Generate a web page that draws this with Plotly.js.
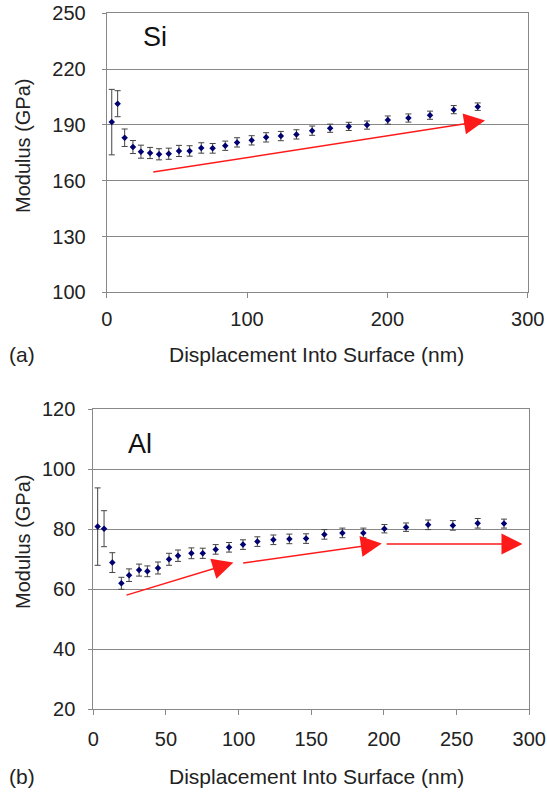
<!DOCTYPE html>
<html><head><meta charset="utf-8">
<script src="https://cdn.plot.ly/plotly-3.0.1.min.js"></script>
<style>html,body{margin:0;padding:0;background:#fff}#c{width:547px;height:792px}</style>
</head><body><div id="c"></div>
<script>
// Si (a)
const siDepth = [3.6,7.8,12.8,18.7,24.4,30.9,37.3,44.2,51.5,59.1,67.4,75.5,84.5,92.9,103.3,113.6,124.1,135.2,146.4,159.2,172.5,185.5,200.3,215.0,230.4,247.3,264.4];
const siModulus = [191.5,201.4,183.1,178.1,175.6,174.9,174.2,174.5,176.0,176.0,177.6,177.4,178.8,180.6,181.7,183.3,184.0,184.9,186.9,188.2,189.2,189.9,192.6,193.7,195.2,198.2,199.8];
const siErr = [17.6,7.0,4.7,3.5,3.5,3.0,3.0,3.0,3.0,2.8,2.8,2.6,2.5,2.5,2.5,2.5,2.5,2.5,2.5,2.2,2.2,2.2,2.2,2.2,2.2,2.2,2.0];
// Al (b)
const alDepth = [3.0,7.4,13.1,19.3,24.6,31.5,37.2,44.5,52.1,58.3,67.5,75.3,84.2,93.4,103.0,112.9,123.9,134.9,146.4,159.0,171.4,185.8,200.3,215.2,230.4,247.4,264.5,282.6];
const alModulus = [80.9,80.2,68.9,62.0,64.7,66.4,66.0,67.1,70.0,71.2,72.0,72.0,73.3,74.0,74.9,75.9,76.5,76.8,76.9,78.3,78.8,78.8,80.2,80.7,81.5,81.3,82.0,81.9];
const alErr = [12.9,6.0,3.3,2.0,2.1,2.0,1.8,2.0,2.0,1.9,1.8,1.7,1.6,1.6,1.6,1.6,1.6,1.6,1.6,1.6,1.6,1.6,1.4,1.4,1.6,1.6,1.6,1.5];
const alEdgeDepth = [302];
const alEdgeModulus = [83.0];
const alEdgeErr = [1.3];
// trend arrows: [x tail, y tail, x head, y head]
const siArrows = [[32.1,164.5,269.6,192.3]];
const alArrows = [[21.8,57.9,96.4,68.9],[102.1,68.7,198.5,75.3],[200.8,75.1,295.3,75.1]];
const siTicksY = [100,130,160,190,220,250];
const siTicksX = [0,100,200,300];
const alTicksY = [20,40,60,80,100,120];
const alTicksX = [0,50,100,150,200,250,300];

const FONT = 'Liberation Sans, Arial, Helvetica, sans-serif';
const navy = '#000070';
const errStyle = {type:'data', visible:true, color:'#444', thickness:1, width:3};

const traces = [
  {x:siDepth, y:siModulus, type:'scatter', mode:'markers', xaxis:'x', yaxis:'y',
   marker:{symbol:'diamond', size:5, color:navy},
   error_y:Object.assign({array:siErr}, errStyle), showlegend:false},
  {x:alDepth, y:alModulus, type:'scatter', mode:'markers', xaxis:'x2', yaxis:'y2',
   marker:{symbol:'diamond', size:5, color:navy},
   error_y:Object.assign({array:alErr}, errStyle), showlegend:false},
  {x:alEdgeDepth, y:alEdgeModulus, type:'scatter', mode:'markers', xaxis:'x2', yaxis:'y2',
   cliponaxis:false, marker:{size:1, color:'rgba(0,0,0,0)'},
   error_y:{type:'data', array:alEdgeErr, color:'#999', thickness:1, width:3}, showlegend:false}
];

const axBase = {showline:true, linecolor:'#888', linewidth:1, mirror:true,
  ticks:'outside', tickcolor:'#888', ticklen:5, zeroline:false,
  tickfont:{family:FONT, size:20, color:'#222'}, fixedrange:true};

function arrows(list, xr, yr){
  return list.map(a => ({x:a[2], y:a[3], ax:a[0], ay:a[1], xref:xr, yref:yr, axref:xr, ayref:yr,
    text:'', showarrow:true, arrowhead:2, arrowsize:2.8, arrowwidth:1.5, arrowcolor:'#ff1a1a', standoff:0}));
}

const TF = {family:FONT, size:21, color:'#222'};
const annotations = [
  {text:'Si', x:155, y:37, font:{family:FONT, size:27, color:'#111'}},
  {text:'Al', x:140, y:444, font:{family:FONT, size:27, color:'#111'}},
  {text:'(a)', x:22, y:354, font:TF},
  {text:'Displacement Into Surface (nm)', x:316, y:354, font:TF},
  {text:'(b)', x:22, y:776, font:TF},
  {text:'Displacement Into Surface (nm)', x:316, y:776, font:TF},
  {text:'Modulus (GPa)', x:23, y:146, textangle:-90, font:{family:FONT, size:20, color:'#222'}},
  {text:'Modulus (GPa)', x:23, y:542, textangle:-90, font:{family:FONT, size:20, color:'#222'}}
].map(a => Object.assign(a, {xref:'paper', yref:'paper', xanchor:'center', yanchor:'middle', showarrow:false, x:a.x/547, y:1-a.y/792}))
 .concat(arrows(siArrows,'x','y'), arrows(alArrows,'x2','y2'));

const layout = {
  width:547, height:792, margin:{l:0,r:0,t:0,b:0},
  paper_bgcolor:'#fff', plot_bgcolor:'#fff', showlegend:false,
  xaxis:Object.assign({}, axBase, {domain:[106.7/547,527.7/547], range:[0,300], tickvals:siTicksX, showgrid:false, anchor:'y', ticklabelstandoff:4}),
  yaxis:Object.assign({}, axBase, {domain:[1-292.3/792,1-13.3/792], range:[100,250], tickvals:siTicksY, showgrid:true, gridcolor:'#888', gridwidth:1, anchor:'x', ticklen:4, ticklabelstandoff:12}),
  xaxis2:Object.assign({}, axBase, {domain:[93.3/547,529.3/547], range:[0,300], tickvals:alTicksX, showgrid:false, anchor:'y2', ticklabelstandoff:7}),
  yaxis2:Object.assign({}, axBase, {domain:[1-709.3/792,1-409.3/792], range:[20,120], tickvals:alTicksY, showgrid:true, gridcolor:'#888', gridwidth:1, anchor:'x2', ticklen:4, ticklabelstandoff:9}),
  annotations:annotations
};

Plotly.newPlot('c', traces, layout, {displayModeBar:false, staticPlot:true});
</script></body></html>
